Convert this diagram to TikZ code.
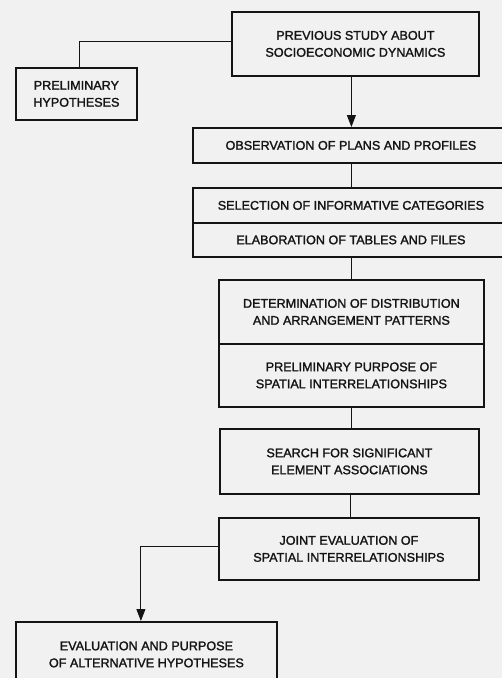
\documentclass[tikz,border=0pt]{standalone}
\usepackage{fontspec}
\setmainfont{Liberation Sans}
\newfontfamily\boxfont{Liberation Sans}[FakeBold=1.6]
\usetikzlibrary{arrows.meta}
\definecolor{bgpaper}{RGB}{241,241,241}
\definecolor{ink}{RGB}{20,20,20}
\tikzset{
  flowbox/.style={draw=ink, line width=1.8pt, align=center, inner sep=0pt,
    anchor=north west, text=ink, font=\boxfont\fontsize{12.6}{17}\selectfont},
  link/.style={draw=ink, line width=0.9pt},
  arrowlink/.style={link, -{Triangle[length=12pt,width=9pt]}},
}
\begin{document}
\begin{tikzpicture}[x=1pt,y=-1pt]
\useasboundingbox (0,0) rectangle (502,678);
\fill[bgpaper] (0,0) rectangle (502,678);
\clip (0,0) rectangle (502,678);

\node[flowbox, minimum width=247pt, minimum height=64pt] (prev) at (231,11)
  {PREVIOUS STUDY ABOUT\\SOCIOECONOMIC DYNAMICS};
\node[flowbox, minimum width=121pt, minimum height=52pt] (prelim) at (15,67)
  {PRELIMINARY\\HYPOTHESES};
\node[flowbox, minimum width=316pt, minimum height=35pt] (obs) at (192,127)
  {OBSERVATION OF PLANS AND PROFILES};
\node[flowbox, minimum width=316pt, minimum height=35pt] (sel) at (192,187)
  {SELECTION OF INFORMATIVE CATEGORIES};
\node[flowbox, minimum width=316pt, minimum height=34pt] (elab) at (192,222)
  {ELABORATION OF TABLES AND FILES};
\node[flowbox, minimum width=265pt, minimum height=64pt] (det) at (218,279)
  {DETERMINATION OF DISTRIBUTION\\AND ARRANGEMENT PATTERNS};
\node[flowbox, minimum width=265pt, minimum height=63pt] (pp) at (218,343)
  {PRELIMINARY PURPOSE OF\\SPATIAL INTERRELATIONSHIPS};
\node[flowbox, minimum width=259pt, minimum height=65pt] (search) at (219,428)
  {SEARCH FOR SIGNIFICANT\\ELEMENT ASSOCIATIONS};
\node[flowbox, minimum width=260pt, minimum height=62pt] (joint) at (218,517)
  {JOINT EVALUATION OF\\SPATIAL INTERRELATIONSHIPS};
\node[flowbox, minimum width=261pt, minimum height=65pt] (eval) at (15,621)
  {EVALUATION AND PURPOSE\\OF ALTERNATIVE HYPOTHESES};

% connectors
\draw[link] ([yshift=2pt]prev.west) -| ([xshift=3pt]prelim.north);
\draw[arrowlink] ([xshift=-4pt]prev.south) -- ([xshift=-4pt]prev.south |- obs.north);
\draw[link] (obs.south -| pp.south) -- (sel.north -| pp.south);
\draw[link] (elab.south -| pp.south) -- (det.north);
\draw[link] (pp.south) -- (pp.south |- search.north);
\draw[link] ([xshift=1pt]search.south) -- ([xshift=1pt]search.south |- joint.north);
\draw[arrowlink] ([yshift=2pt]joint.west) -| ([xshift=-5.5pt]eval.north);
\end{tikzpicture}
\end{document}
